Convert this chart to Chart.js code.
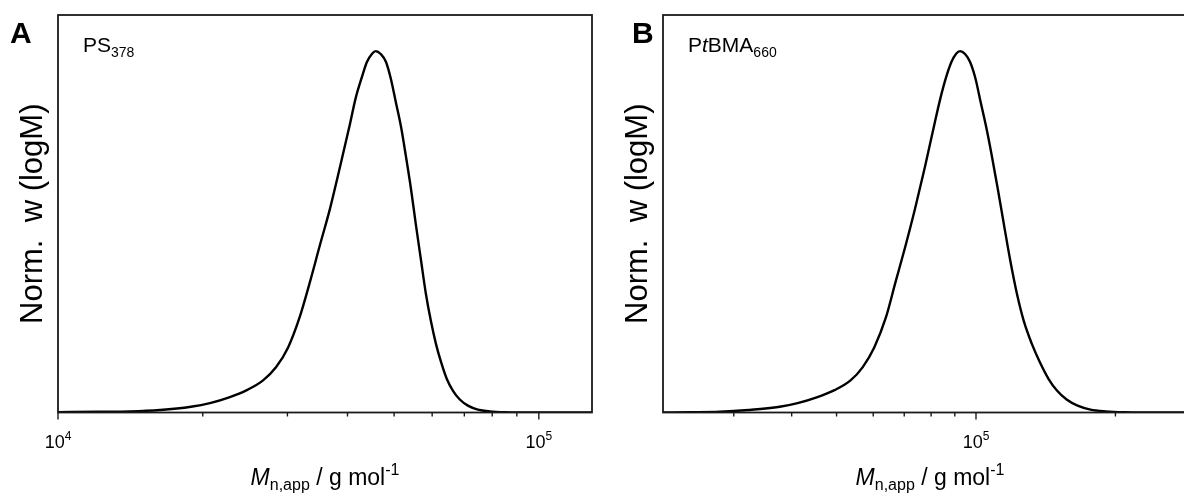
<!DOCTYPE html>
<html>
<head>
<meta charset="utf-8">
<script src="https://cdn.jsdelivr.net/npm/chart.js@4"></script>
<style>
    html, body { margin: 0; padding: 0; background: #fff; overflow: hidden; }
    #wrapA { position: absolute; left: 0; top: 0; width: 600px; height: 495px; }
    #wrapB { position: absolute; left: 600px; top: 0; width: 620px; height: 495px; }
</style>
</head>
<body>
<div id="wrapA"><canvas id="chartA" width="600" height="495"></canvas></div>
<div id="wrapB"><canvas id="chartB" width="620" height="495"></canvas></div>
<script>
// パネルA: PS378 (M / g mol-1, 正規化 w(logM))
const massA = [10000, 12200, 14100, 16300, 18900, 20700, 22700, 24700, 26700, 28400, 30100, 31800, 33400, 35000, 36800, 38600, 40500, 41600, 42900, 43900, 45000, 45800,
    46900, 48100, 49200, 50400, 51700, 52900, 54200, 55500, 56900, 58200, 59600, 61100, 62600, 64400, 66300, 68500, 71200, 74700, 79100, 85000, 91300, 129000];
const wA = [0.001, 0.002, 0.003, 0.007, 0.016, 0.026, 0.042, 0.062, 0.089, 0.125, 0.18, 0.263, 0.36, 0.46, 0.565, 0.68, 0.80, 0.87, 0.93, 0.97, 0.993, 1.0,
    0.992, 0.97, 0.925, 0.86, 0.79, 0.71, 0.62, 0.52, 0.42, 0.33, 0.255, 0.19, 0.14, 0.092, 0.06, 0.036, 0.019, 0.008, 0.003, 0.0005, 0, 0];

// パネルB: PtBMA660
const massB = [21100, 24100, 28000, 32300, 37700, 41200, 45300, 49500, 53600, 56900, 60300, 63900, 67000, 70400, 73900, 77600, 81400, 83800, 86300, 88500, 90600, 92400,
    94700, 97100, 99700, 102300, 105200, 108200, 111400, 114900, 118600, 122500, 126700, 132000, 137300, 143600, 149700, 156900, 165700, 176700, 190400, 209200, 229800, 300000];
const wB = [0.0003, 0.0008, 0.002, 0.007, 0.016, 0.026, 0.042, 0.062, 0.089, 0.125, 0.18, 0.263, 0.36, 0.46, 0.565, 0.68, 0.80, 0.87, 0.93, 0.97, 0.993, 1.0,
    0.992, 0.97, 0.925, 0.86, 0.79, 0.71, 0.62, 0.52, 0.42, 0.33, 0.255, 0.19, 0.14, 0.092, 0.06, 0.036, 0.019, 0.008, 0.003, 0.0005, 0, 0];

// 目盛り
const ticksA = [10000, 20000, 30000, 40000, 50000, 60000, 70000, 80000, 90000, 100000];
const majorA = [10000, 100000];
const majorExpA = ["4", "5"];
const ticksB = [30000, 40000, 50000, 60000, 70000, 80000, 90000, 100000, 200000, 300000];
const majorB = [100000];
const majorExpB = ["5"];

const FONT = '"Liberation Sans", Arial, sans-serif';

function drawRich(ctx, parts, x, y, center) {
    let total = 0;
    parts.forEach(p => {
        ctx.font = p.font;
        p.w = ctx.measureText(p.t).width;
        total += p.w;
    });
    let cx = center ? x - total / 2 : x;
    parts.forEach(p => {
        ctx.font = p.font;
        ctx.fillText(p.t, cx, y + (p.dy || 0));
        cx += p.w;
    });
}

function framePlugin(panel) {
    return {
        id: "frame" + panel.letter,
        afterDraw(chart) {
            const ctx = chart.ctx;
            const a = chart.chartArea;
            const xs = chart.scales.x;
            ctx.save();
            ctx.fillStyle = "#000";
            ctx.textAlign = "left";
            ctx.textBaseline = "alphabetic";

            // 枠
            ctx.strokeStyle = "#1a1a1a";
            ctx.lineWidth = 1.8;
            ctx.strokeRect(a.left, a.top, a.right - a.left, a.bottom - a.top);

            // 目盛り線
            ctx.lineWidth = 1.4;
            panel.ticks.forEach(v => {
                const px = xs.getPixelForValue(v);
                const len = panel.major.includes(v) ? 7 : 4;
                ctx.beginPath();
                ctx.moveTo(px, a.bottom);
                ctx.lineTo(px, a.bottom + len);
                ctx.stroke();
            });

            // 目盛りラベル
            panel.major.forEach((v, i) => {
                const px = xs.getPixelForValue(v);
                drawRich(ctx, [
                    { t: "10", font: "18px " + FONT },
                    { t: panel.exp[i], font: "12px " + FONT, dy: -8 }
                ], px, 448, true);
            });

            // x軸タイトル
            drawRich(ctx, [
                { t: "M", font: "italic 23px " + FONT },
                { t: "n,app", font: "16px " + FONT, dy: 5 },
                { t: " / g mol", font: "23px " + FONT },
                { t: "-1", font: "16px " + FONT, dy: -10 }
            ], (a.left + a.right) / 2, 485, true);

            // y軸タイトル
            ctx.save();
            ctx.translate(a.left - 16, (a.top + a.bottom) / 2);
            ctx.rotate(-Math.PI / 2);
            ctx.textAlign = "center";
            ctx.font = "31px " + FONT;
            ctx.fillText("Norm.  w (logM)", 0, 0);
            ctx.restore();

            // パネル記号
            ctx.font = "bold 30px " + FONT;
            ctx.fillText(panel.letter, panel.letterX, 43);

            // サンプル名
            drawRich(ctx, panel.name, a.left + 25, 52, false);
            ctx.restore();
        }
    };
}

function makeChart(id, mass, w, xmin, xmax, padding, panel) {
    return new Chart(document.getElementById(id), {
        type: "line",
        data: {
            datasets: [{
                data: mass.map((m, i) => ({ x: m, y: w[i] })),
                borderColor: "#000",
                borderWidth: 2.4,
                pointRadius: 0,
                cubicInterpolationMode: "monotone",
                fill: false
            }]
        },
        options: {
            responsive: false,
            animation: false,
            layout: { padding: padding },
            plugins: { legend: { display: false }, tooltip: { enabled: false } },
            scales: {
                x: { type: "logarithmic", min: xmin, max: xmax, display: false },
                y: { type: "linear", min: 0, max: 1.1, display: false }
            }
        },
        plugins: [framePlugin(panel)]
    });
}

makeChart("chartA", massA, wA, 10000, 129000,
    { left: 58, right: 8, top: 15, bottom: 82.5 },
    {
        letter: "A", letterX: 10, ticks: ticksA, major: majorA, exp: majorExpA,
        name: [
            { t: "PS", font: "21px " + FONT },
            { t: "378", font: "14px " + FONT, dy: 5 }
        ]
    });

makeChart("chartB", massB, wB, 21100, 300000,
    { left: 63, right: 23, top: 15, bottom: 82.5 },
    {
        letter: "B", letterX: 32, ticks: ticksB, major: majorB, exp: majorExpB,
        name: [
            { t: "P", font: "21px " + FONT },
            { t: "t", font: "italic 21px " + FONT },
            { t: "BMA", font: "21px " + FONT },
            { t: "660", font: "14px " + FONT, dy: 5 }
        ]
    });
</script>
</body>
</html>
